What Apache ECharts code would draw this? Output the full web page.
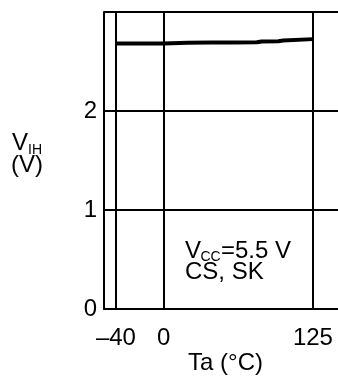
<!DOCTYPE html>
<html>
<head>
<meta charset="utf-8">
<script src="https://cdn.jsdelivr.net/npm/echarts@6/dist/echarts.min.js"></script>
<style>
  html, body { margin: 0; padding: 0; background: #fff; }
  #chart { width: 338px; height: 379px; }
</style>
</head>
<body>
<div id="chart"></div>
<script>
// Input high-level voltage vs ambient temperature
var temperatures = [-40, 0, 20, 40, 60, 78, 82, 96, 100, 125];
var vihValues    = [2.683, 2.683, 2.69, 2.692, 2.692, 2.695, 2.703, 2.705, 2.712, 2.726];
var xTicks = [-40, 0, 125];
var yTicks = [0, 1, 2];

var FONT = '"Liberation Sans", Arial, sans-serif';
var chart = echarts.init(document.getElementById('chart'));

// vertical grid lines at the labelled temperatures
var gridX = xTicks.map(function (t) { return { xAxis: t }; });

function txt(x, y, s, size, align) {
  return {
    type: 'text', x: x, y: y, silent: true,
    style: { text: s, font: size + 'px ' + FONT, fill: '#000',
             textAlign: align || 'left', textVerticalAlign: 'middle' }
  };
}

chart.setOption({
  animation: false,
  backgroundColor: '#fff',
  grid: { left: 104, right: 0, top: 12, bottom: 70 },
  xAxis: {
    type: 'value',
    min: -50,
    max: 146,
    axisLine: { show: true, onZero: false, lineStyle: { color: '#000', width: 2 } },
    axisTick: { show: false },
    splitLine: { show: false },
    axisLabel: {
      customValues: xTicks,
      color: '#000',
      fontFamily: FONT,
      fontSize: 24,
      margin: 17,
      formatter: function (v) { return String(v).replace('-', '\u2013'); }
    }
  },
  yAxis: {
    type: 'value',
    min: 0,
    max: 3,
    interval: 1,
    axisLine: { show: true, onZero: false, lineStyle: { color: '#000', width: 2 } },
    axisTick: { show: false },
    splitLine: { show: true, lineStyle: { color: '#000', width: 2 } },
    axisLabel: {
      color: '#000',
      fontFamily: FONT,
      fontSize: 24,
      margin: 7,
      formatter: function (v) { return yTicks.indexOf(v) >= 0 ? String(v) : ''; }
    }
  },
  series: [{
    type: 'line',
    data: temperatures.map(function (t, i) { return [t, vihValues[i]]; }),
    showSymbol: false,
    lineStyle: { color: '#000', width: 4 },
    markLine: {
      silent: true,
      symbol: 'none',
      label: { show: false },
      lineStyle: { color: '#000', width: 2, type: 'solid' },
      data: gridX
    }
  }],
  graphic: [
    txt(12, 143.5, 'V', 24),
    txt(28, 150.5, 'IH', 14),
    txt(11, 165, '(V)', 24),
    txt(185, 251, 'V', 24),
    txt(200.5, 257.5, 'CC', 14),
    txt(221, 251, '=5.5 V', 24),
    txt(185, 272, 'CS, SK', 24),
    txt(225.5, 363.5, 'Ta (\u00B0C)', 24, 'center')
  ]
});
</script>
</body>
</html>
